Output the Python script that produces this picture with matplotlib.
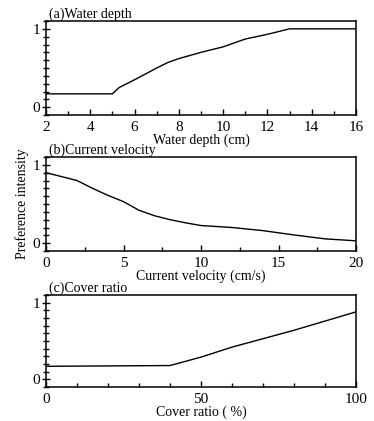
import matplotlib
matplotlib.use("Agg")
import matplotlib.pyplot as plt
from matplotlib.ticker import MultipleLocator

plt.rcParams['font.family'] = ['Liberation Serif', 'DejaVu Serif']
plt.rcParams['font.size'] = 10

# Panel (a) Water depth
depth_x = [2, 5, 5.3, 6, 7, 7.5, 8, 9, 10, 11, 12, 13, 16]
depth_y = [0.17, 0.17, 0.25, 0.35, 0.50, 0.57, 0.62, 0.70, 0.77, 0.87, 0.93, 1.0, 1.0]

# Panel (b) Current velocity
vel_x = [0, 2, 3, 4, 5, 6, 7, 8, 9, 10, 12, 14, 16, 18, 20]
vel_y = [0.90, 0.80, 0.70, 0.61, 0.53, 0.42, 0.35, 0.30, 0.26, 0.225, 0.20, 0.16, 0.105, 0.055, 0.03]

# Panel (c) Cover ratio
cover_x = [0, 40, 50, 60, 70, 80, 90, 100]
cover_y = [0.17, 0.18, 0.29, 0.42, 0.53, 0.64, 0.76, 0.88]

titles = ["(a)Water depth", "(b)Current velocity", "(c)Cover ratio"]
xlabels = ["Water depth (cm)", "Current velocity (cm/s)", "Cover ratio ( %)"]

fig = plt.figure(figsize=(3.74, 4.21), dpi=100)
left, width = 46/374, 310/374
rects = [
    (left, 1 - 115/421, width, 94/421),
    (left, 1 - 251/421, width, 94/421),
    (left, 1 - 387/421, width, 92/421),
]
xlims = [(2, 16), (0, 20), (0, 100)]
majors = [2, 5, 50]
minors = [1, 2.5, 10]
data = [(depth_x, depth_y), (vel_x, vel_y), (cover_x, cover_y)]

for i, r in enumerate(rects):
    ax = fig.add_axes(r)
    x, y = data[i]
    ax.plot(x, y, color='black', lw=1.0)
    ax.set_xlim(*xlims[i])
    ax.set_ylim(-0.1, 1.1)
    ax.set_yticks([0, 1])
    ax.yaxis.set_minor_locator(MultipleLocator(0.1))
    ax.xaxis.set_major_locator(MultipleLocator(majors[i]))
    ax.xaxis.set_minor_locator(MultipleLocator(minors[i]))
    ax.tick_params(axis='y', which='major', direction='inout', length=6, width=1.0, pad=1, labelsize=11)
    ax.tick_params(axis='y', which='minor', direction='inout', length=5, width=1.0)
    ax.tick_params(axis='x', which='major', direction='in', length=4, width=1.0, pad=4, labelsize=11)
    ax.tick_params(axis='x', which='minor', direction='in', length=3, width=1.0)
    for s in ax.spines.values():
        s.set_linewidth(1.1)
    ax.set_xlabel(xlabels[i], labelpad=0)
    ax.text(0.01, 1.0, titles[i], transform=ax.transAxes, ha='left', va='bottom')
    if i == 1:
        ax.set_ylabel("Preference intensity", labelpad=3)

fig.savefig("out.png", dpi=100)
